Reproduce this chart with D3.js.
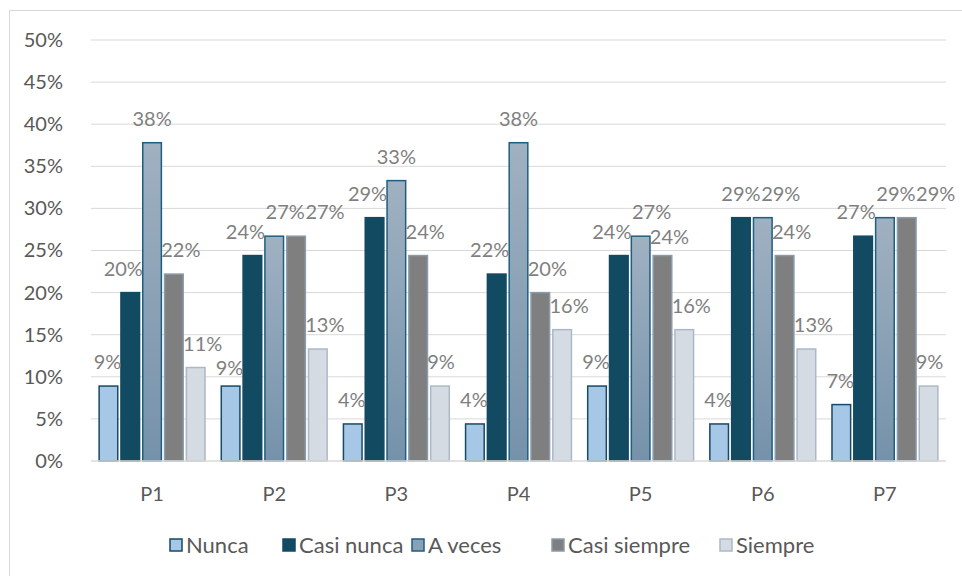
<!DOCTYPE html>
<html>
<head>
<meta charset="utf-8">
<script src="https://cdn.jsdelivr.net/npm/d3@7"></script>
<style>
  body { margin: 0; background: #fff; }
  text { font-family: Lato, "Open Sans", sans-serif; }
</style>
</head>
<body>
<div id="chart"></div>
<script>
// preguntas y respuestas (porcentaje sobre 45 encuestados)
var categories = ["P1", "P2", "P3", "P4", "P5", "P6", "P7"];
var seriesNames = ["Nunca", "Casi nunca", "A veces", "Casi siempre", "Siempre"];
var nunca       = [8.9, 8.9, 4.4, 4.4, 8.9, 4.4, 6.7];
var casiNunca   = [20.0, 24.4, 28.9, 22.2, 24.4, 28.9, 26.7];
var aVeces      = [37.8, 26.7, 33.3, 37.8, 26.7, 28.9, 28.9];
var casiSiempre = [22.2, 26.7, 24.4, 20.0, 24.4, 24.4, 28.9];
var siempre     = [11.1, 13.3, 8.9, 15.6, 15.6, 13.3, 8.9];
var yTicks = [0, 5, 10, 15, 20, 25, 30, 35, 40, 45, 50];

var series = [nunca, casiNunca, aVeces, casiSiempre, siempre];
var fills = ["#a7c7e7", "#124a62", "url(#gradVeces)", "#7f7f7f", "#d5dbe3"];
var strokes = ["#164a66", "#124a62", "#1c5f80", "#8a9bab", "#adb8c6"];
var legendFills = ["#a7c7e7", "#124a62", "#8aa0b4", "#7f7f7f", "#d5dbe3"];

var w = 962, h = 576;
var margin = {left: 91, right: 16, top: 40, bottom: 115};

var svg = d3.select("#chart").append("svg")
	.attr("width", w)
	.attr("height", h);

var defs = svg.append("defs");
var grad = defs.append("linearGradient")
	.attr("id", "gradVeces")
	.attr("x1", 0).attr("y1", 0).attr("x2", 0).attr("y2", 1);
grad.append("stop").attr("offset", "0%").attr("stop-color", "#a0b1c1");
grad.append("stop").attr("offset", "100%").attr("stop-color", "#7592aa");

// borde del gráfico
svg.append("rect")
	.attr("x", 9.5).attr("y", 10.5)
	.attr("width", 960).attr("height", 580)
	.attr("fill", "none")
	.attr("stroke", "#d9d9d9");

var x = d3.scaleBand()
	.domain(categories)
	.range([margin.left, w - margin.right]);

var x1 = d3.scaleBand()
	.domain(d3.range(series.length))
	.range([0, x.bandwidth()])
	.paddingOuter(0.35)
	.paddingInner(0.1);

var y = d3.scaleLinear()
	.domain([0, 50])
	.range([h - margin.bottom, margin.top]);

// grid
svg.append("g")
	.selectAll("line")
	.data(yTicks.slice(1))
	.enter().append("line")
		.attr("x1", margin.left)
		.attr("x2", w - margin.right)
		.attr("y1", function(d){ return y(d); })
		.attr("y2", function(d){ return y(d); })
		.attr("stroke", "#d9d9d9")
		.attr("stroke-width", 1);

// eje y
var yAxis = svg.append("g")
	.attr("transform", "translate(" + (margin.left - 25) + ",0)")
	.call(d3.axisLeft(y).tickValues(yTicks).tickSize(0).tickFormat(function(d){ return d + "%"; }));
yAxis.select(".domain").remove();
yAxis.selectAll("text")
	.attr("fill", "#595959")
	.style("font-size", "20px");

// barras
var barBoxes = [];
var labelItems = [];
categories.forEach(function(c, i){
	series.forEach(function(vals, si){
		var bx = x(c) + x1(si);
		barBoxes.push({x0: bx, x1: bx + x1.bandwidth(), y0: y(vals[i]), y1: y(0)});
		labelItems.push({v: vals[i], cx: bx + x1.bandwidth() / 2, top: y(vals[i])});
	});
});

series.forEach(function(vals, si){
	svg.append("g")
		.selectAll("rect")
		.data(vals)
		.enter().append("rect")
			.attr("x", function(d, i){ return x(categories[i]) + x1(si) + 0.5; })
			.attr("y", function(d){ return y(d); })
			.attr("width", x1.bandwidth() - 1)
			.attr("height", function(d){ return y(0) - y(d); })
			.attr("fill", fills[si])
			.attr("stroke", strokes[si])
			.attr("stroke-width", 1.5);
});

// etiquetas de datos, movidas de lado o hacia abajo si chocan
function overlap(a, b){
	var ox = Math.min(a.x1, b.x1) - Math.max(a.x0, b.x0);
	var oy = Math.min(a.y1, b.y1) - Math.max(a.y0, b.y0);
	return (ox > 0 && oy > 0) ? ox * oy : 0;
}

var labelG = svg.append("g");
var placed = [];
labelItems.forEach(function(it){
	var t = labelG.append("text")
		.attr("x", 0).attr("y", 0)
		.attr("text-anchor", "middle")
		.attr("fill", "#7f7f7f")
		.style("font-size", "20px")
		.text(Math.round(it.v) + "%");
	var bb = t.node().getBBox();
	var base = it.top - 17;
	var best = null;
	for (var dy = 0; dy <= 24; dy++){
		for (var dx = -32; dx <= 32; dx++){
			var tx = it.cx + dx, ty = base + dy;
			var full = {x0: tx + bb.x, x1: tx + bb.x + bb.width, y0: ty + bb.y, y1: ty + bb.y + bb.height};
			var ink = {x0: full.x0 + 1, x1: full.x1 - 1, y0: ty - 15, y1: ty + 2};
			var ov = 0;
			barBoxes.forEach(function(b){ ov += overlap(ink, b); });
			placed.forEach(function(b){ ov += overlap(full, b); });
			var cost = ov * 50 + Math.abs(dx) + dy * 0.8;
			if (!best || cost < best.cost) best = {cost: cost, tx: tx, ty: ty, box: full};
		}
	}
	placed.push(best.box);
	t.attr("x", best.tx).attr("y", best.ty);
});

// eje x
svg.append("line")
	.attr("x1", margin.left)
	.attr("x2", w - margin.right)
	.attr("y1", y(0))
	.attr("y2", y(0))
	.attr("stroke", "#d9d9d9")
	.attr("stroke-width", 1.5);

svg.append("g")
	.selectAll("text")
	.data(categories)
	.enter().append("text")
		.attr("x", function(d){ return x(d) + x.bandwidth() / 2; })
		.attr("y", y(0) + 40)
		.attr("text-anchor", "middle")
		.attr("fill", "#595959")
		.style("font-size", "20px")
		.text(function(d){ return d; });

// leyenda
var legendX = [170, 283, 412, 552, 720];
var legend = svg.append("g")
	.selectAll("g")
	.data(seriesNames)
	.enter().append("g")
		.attr("transform", function(d, i){ return "translate(" + legendX[i] + ",539)"; });
legend.append("rect")
	.attr("width", 12).attr("height", 12)
	.attr("fill", function(d, i){ return legendFills[i]; })
	.attr("stroke", function(d, i){ return strokes[i]; })
	.attr("stroke-width", 1.5);
legend.append("text")
	.attr("x", 16)
	.attr("y", 14)
	.attr("fill", "#595959")
	.style("font-size", "22px")
	.text(function(d){ return d; });
</script>
</body>
</html>
